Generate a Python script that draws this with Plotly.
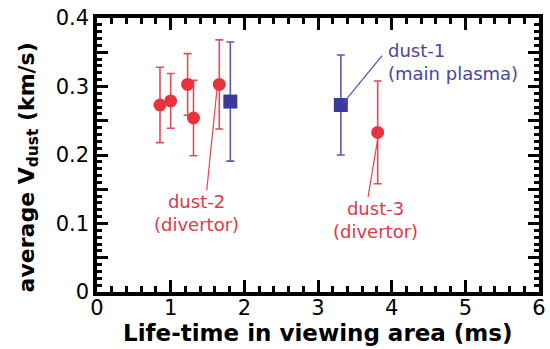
import plotly.graph_objects as go

# Divertor dust (dust-2 group and dust-3)
red_t = [0.855, 1.00, 1.23, 1.31, 1.66, 3.81]
red_v = [0.273, 0.279, 0.303, 0.254, 0.303, 0.233]
red_err = [0.055, 0.040, 0.045, 0.055, 0.065, 0.075]

# Main plasma dust (dust-1)
blue_t = [1.81, 3.31]
blue_v = [0.278, 0.273]
blue_err = [0.087, 0.073]

x_ticks = [0, 1, 2, 3, 4, 5, 6]
y_ticks = [0, 0.05, 0.1, 0.15, 0.2, 0.25, 0.3, 0.35, 0.4]
y_tick_text = ["0", "", "0.1", "", "0.2", "", "0.3", "", "0.4"]

RED = "#E8323E"
RED_BAR = "#E44A5A"
BLUE = "#3A3A9C"
BLUE_BAR = "#5A5AAE"
FONT = "DejaVu Sans, Verdana, sans-serif"

fig = go.Figure()

fig.add_trace(go.Scatter(
    x=red_t, y=red_v, mode="markers",
    marker=dict(symbol="circle", size=13, color=RED, line=dict(width=0)),
    error_y=dict(type="data", array=red_err, visible=True,
                 color=RED_BAR, thickness=1.6, width=4),
    showlegend=False,
))
fig.add_trace(go.Scatter(
    x=blue_t, y=blue_v, mode="markers",
    marker=dict(symbol="square", size=14, color=BLUE, line=dict(width=0)),
    error_y=dict(type="data", array=blue_err, visible=True,
                 color=BLUE_BAR, thickness=1.6, width=4),
    showlegend=False,
))

# Leader lines from the labelled points to their captions
fig.add_shape(type="line", x0=blue_t[1] + 0.04, y0=blue_v[1] + 0.004,
              x1=3.87, y1=0.345, line=dict(color="#5050B0", width=1.2))
fig.add_shape(type="line", x0=red_t[4] - 0.03, y0=red_v[4] - 0.006,
              x1=1.49, y1=0.149, line=dict(color="#E84050", width=1.2))
fig.add_shape(type="line", x0=red_t[5] + 0.005, y0=red_v[5] - 0.007,
              x1=3.68, y1=0.139, line=dict(color="#E84050", width=1.2))

ann_font = dict(family=FONT, size=18)
fig.add_annotation(x=3.92, y=0.3365, xref="x", yref="y",
                   text="dust-1<br>(main plasma)", showarrow=False,
                   xanchor="left", yanchor="middle", align="left",
                   font=dict(ann_font, color="#4646A8"))
fig.add_annotation(x=1.357, y=0.1153, xref="x", yref="y",
                   text="dust-2<br>(divertor)", showarrow=False,
                   xanchor="center", yanchor="middle", align="center",
                   font=dict(ann_font, color="#E03848"))
fig.add_annotation(x=3.774, y=0.1044, xref="x", yref="y",
                   text="dust-3<br>(divertor)", showarrow=False,
                   xanchor="center", yanchor="middle", align="center",
                   font=dict(ann_font, color="#E03848"))

# Axis titles
fig.add_annotation(x=-0.156, y=0.455, xref="paper", yref="paper",
                   text="<b>average V<sub>dust</sub> (km/s)</b>",
                   textangle=-90, showarrow=False,
                   xanchor="center", yanchor="middle",
                   font=dict(family=FONT, size=22, color="black"))
fig.add_annotation(x=0.5, y=-0.150, xref="paper", yref="paper",
                   text="<b>Life-time in viewing area (ms)</b>",
                   showarrow=False, xanchor="center", yanchor="middle",
                   font=dict(family=FONT, size=23, color="black"))

axis_common = dict(
    showline=True, linecolor="black", linewidth=3.5, mirror="allticks",
    ticks="inside", tickcolor="black", showgrid=False, zeroline=False,
    automargin=False,
    tickfont=dict(family=FONT, size=21, color="black"),
)

fig.update_xaxes(
    range=[0, 6], tickvals=x_ticks, ticklen=12, tickwidth=2.5,
    ticklabelstandoff=-6,
    minor=dict(dtick=0.2, ticks="inside", ticklen=6, tickwidth=2.5,
               tickcolor="black", showgrid=False),
    **axis_common,
)
fig.update_yaxes(
    range=[0, 0.4], tickvals=y_ticks, ticktext=y_tick_text,
    ticklen=11, tickwidth=2.5,
    minor=dict(dtick=0.01, ticks="inside", ticklen=5, tickwidth=2.5,
               tickcolor="black", showgrid=False),
    **axis_common,
)

fig.update_layout(
    width=550, height=349,
    margin=dict(l=97, r=11, t=18, b=57),
    plot_bgcolor="white", paper_bgcolor="white",
    font=dict(family=FONT),
)

fig.write_html("out.html")
